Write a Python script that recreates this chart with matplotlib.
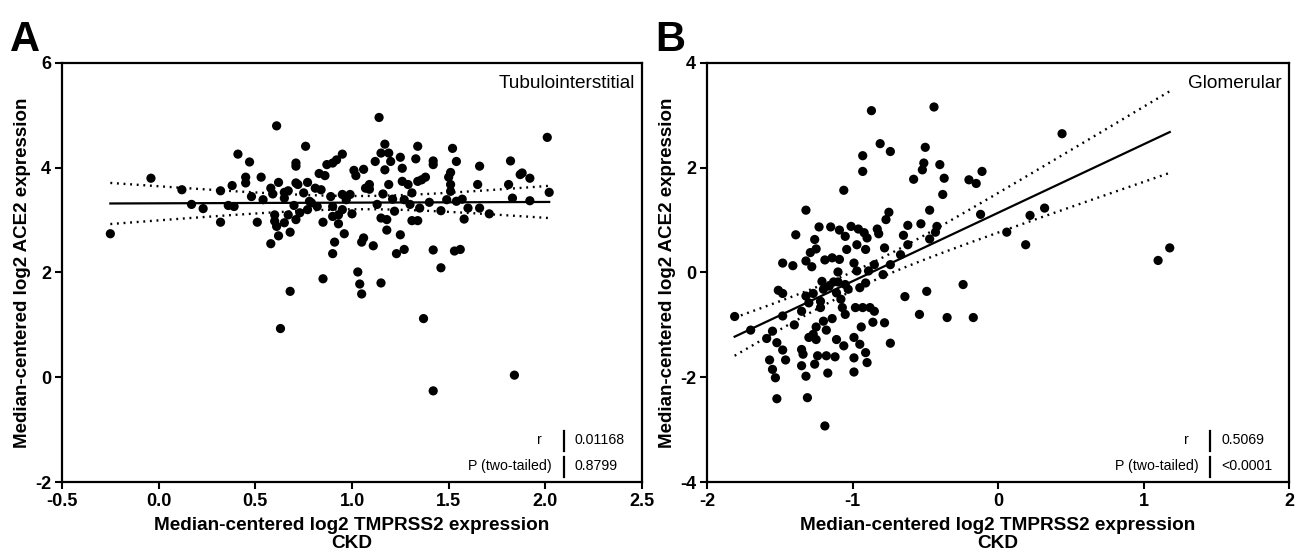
import matplotlib
matplotlib.use("Agg")
import matplotlib.pyplot as plt
import numpy as np

plt.rcParams['font.family'] = ['Liberation Sans', 'DejaVu Sans']

# Tubulointerstitial (panel A)
ta_x = [-0.25, -0.04, 0.12, 0.17, 0.23, 0.32, 0.32, 0.36, 0.39, 0.38, 0.41, 0.45, 0.45, 0.47, 0.48,
        0.51, 0.53, 0.54, 0.58, 0.58, 0.59, 0.60, 0.60, 0.61, 0.61, 0.62, 0.62, 0.65, 0.65, 0.65,
        0.67, 0.68, 0.67, 0.68, 0.63, 0.70, 0.71, 0.71, 0.71, 0.71, 0.72, 0.73, 0.75, 0.76, 0.77,
        0.77, 0.78, 0.79, 0.81, 0.82, 0.83, 0.84, 0.86, 0.85, 0.85, 0.87, 0.89, 0.90, 0.90, 0.90,
        0.91, 0.90, 0.92, 0.93, 0.93, 0.95, 0.95, 0.95, 0.96, 0.97, 0.99, 1.00, 1.01, 1.02, 1.03,
        1.04, 1.05, 1.06, 1.05, 1.06, 1.07, 1.09, 1.09, 1.11, 1.12, 1.13, 1.14, 1.15, 1.15, 1.15,
        1.16, 1.17, 1.17, 1.18, 1.18, 1.19, 1.19, 1.20, 1.21, 1.22, 1.23, 1.25, 1.25, 1.26, 1.26,
        1.27, 1.27, 1.29, 1.30, 1.31, 1.31, 1.33, 1.34, 1.34, 1.34, 1.35, 1.36, 1.37, 1.38, 1.40,
        1.42, 1.42, 1.42, 1.46, 1.46, 1.49, 1.50, 1.51, 1.51, 1.51, 1.52, 1.53, 1.54, 1.54, 1.56,
        1.57, 1.58, 1.60, 1.65, 1.66, 1.66, 1.71, 1.81, 1.82, 1.83, 1.87, 1.88, 1.92, 1.92, 2.01,
        2.02, 1.42, 1.84]
ta_y = [2.74, 3.80, 3.58, 3.30, 3.22, 3.56, 2.96, 3.28, 3.26, 3.66, 4.26, 3.82, 3.71, 4.11, 3.45,
        2.96, 3.82, 3.39, 2.55, 3.61, 3.50, 3.10, 2.98, 4.80, 2.88, 3.72, 2.70, 3.53, 3.42, 2.95,
        3.10, 2.77, 3.56, 1.64, 0.93, 3.28, 4.03, 4.09, 3.71, 3.01, 3.68, 3.14, 3.52, 4.41, 3.72,
        3.20, 3.36, 3.33, 3.61, 3.26, 3.89, 3.58, 3.85, 2.96, 1.88, 4.06, 3.45, 3.26, 3.07, 4.09,
        2.58, 2.36, 4.15, 3.10, 2.93, 3.20, 4.26, 3.49, 2.74, 3.39, 3.49, 3.12, 3.95, 3.85, 2.01,
        1.78, 1.59, 2.66, 2.58, 3.97, 3.61, 3.59, 3.68, 2.51, 4.12, 3.30, 4.96, 4.28, 1.80, 3.04,
        3.50, 3.96, 4.45, 3.01, 2.81, 4.28, 3.68, 4.12, 3.40, 3.17, 2.36, 2.72, 4.20, 3.99, 3.74,
        3.39, 2.44, 3.68, 3.30, 3.52, 2.99, 4.17, 2.99, 3.74, 4.41, 3.23, 3.77, 1.12, 3.82, 3.34,
        2.43, 4.06, 4.13, 3.18, 2.09, 3.39, 3.82, 3.68, 3.91, 3.55, 4.37, 2.41, 4.12, 3.36, 2.44,
        3.40, 3.02, 3.23, 3.68, 4.03, 3.23, 3.12, 3.68, 4.13, 3.42, 3.87, 3.90, 3.80, 3.37, 4.58,
        3.53, -0.26, 0.04]

# Glomerular (panel B)
gl_x = [-1.81, -1.70, -1.59, -1.57, -1.55, -1.53, -1.52, -1.55, -1.52, -1.48, -1.46, -1.48, -1.41,
        -1.39, -1.51, -1.48, -1.48, -1.40, -1.35, -1.35, -1.34, -1.35, -1.32, -1.31, -1.32, -1.32,
        -1.32, -1.30, -1.30, -1.29, -1.28, -1.27, -1.26, -1.26, -1.25, -1.25, -1.27, -1.25, -1.24,
        -1.23, -1.22, -1.22, -1.21, -1.20, -1.20, -1.19, -1.19, -1.18, -1.18, -1.17, -1.16, -1.15,
        -1.14, -1.14, -1.13, -1.12, -1.11, -1.11, -1.10, -1.10, -1.09, -1.09, -1.08, -1.07, -1.06,
        -1.06, -1.05, -1.05, -1.05, -1.04, -1.03, -1.01, -0.99, -0.99, -0.99, -0.99, -0.98, -0.97,
        -0.97, -0.96, -0.95, -0.95, -0.94, -0.93, -0.93, -0.93, -0.92, -0.91, -0.91, -0.91, -0.90,
        -0.90, -0.89, -0.88, -0.87, -0.86, -0.85, -0.85, -0.83, -0.82, -0.81, -0.79, -0.78, -0.78,
        -0.77, -0.75, -0.74, -0.74, -0.74, -0.67, -0.65, -0.64, -0.62, -0.62, -0.58, -0.54, -0.53,
        -0.52, -0.51, -0.50, -0.49, -0.47, -0.47, -0.44, -0.43, -0.42, -0.40, -0.37, -0.38, -0.35,
        -0.24, -0.20, -0.17, -0.15, -0.12, -0.11, 0.06, 0.19, 0.22, 0.32, 0.44, 1.18, 1.10]
gl_y = [-0.84, -1.10, -1.26, -1.67, -1.85, -2.01, -2.41, -1.12, -1.34, -1.48, -1.67, 0.18, 0.13,
        0.72, -0.34, -0.40, -0.83, -1.00, -0.74, -1.47, -1.56, -1.78, -1.98, -2.39, 1.19, 0.22,
        -0.45, -0.58, -1.24, 0.38, 0.11, -0.40, -1.75, 0.63, 0.45, -1.04, -1.18, -1.28, -1.59,
        0.87, -0.55, -0.67, -0.17, -0.32, -0.93, 0.24, -2.93, -1.10, -1.59, -1.92, -0.26, 0.87,
        0.28, -0.88, -0.18, -1.61, -0.39, -1.28, 0.01, -0.18, 0.81, 0.25, -0.51, -0.67, -1.40,
        1.57, 0.69, -0.23, -0.80, 0.44, -0.32, 0.88, 0.18, -1.24, -1.63, -1.90, -0.67, 0.53,
        0.03, 0.83, -0.29, -1.37, -1.04, 2.23, 1.93, -0.67, 0.76, 0.44, -0.20, -1.53, -1.72,
        0.66, 0.03, -0.67, 3.09, -0.95, 0.15, -0.74, 0.83, 0.74, 2.46, -0.04, 0.47, -0.96,
        1.01, 1.15, 2.31, 0.15, -1.35, 0.34, 0.71, -0.46, 0.90, 0.53, 1.78, -0.80, 0.93,
        1.96, 2.09, 2.39, -0.36, 0.64, 1.19, 3.16, 0.77, 0.88, 2.06, 1.80, 1.49, -0.86,
        -0.23, 1.77, -0.86, 1.70, 1.11, 1.93, 0.77, 0.53, 1.09, 1.23, 2.65, 0.47, 0.23]

panels = [
    dict(x=ta_x, y=ta_y, xlim=(-0.5, 2.5), ylim=(-2, 6), xticks=[-0.5, 0.0, 0.5, 1.0, 1.5, 2.0, 2.5],
         yticks=[-2, 0, 2, 4, 6], xfmt='{:.1f}', name='Tubulointerstitial', r='0.01168', p='0.8799',
         letter='A', pos=[0.0476, 0.1362, 0.4451, 0.7509]),
    dict(x=gl_x, y=gl_y, xlim=(-2, 2), ylim=(-4, 4), xticks=[-2, -1, 0, 1, 2],
         yticks=[-4, -2, 0, 2, 4], xfmt='{:.0f}', name='Glomerular', r='0.5069', p='<0.0001',
         letter='B', pos=[0.5426, 0.1362, 0.4467, 0.7509]),
]

fig = plt.figure(figsize=(13.03, 5.58), dpi=100)

for pn in panels:
    ax = fig.add_axes(pn['pos'])
    x = np.array(pn['x'])
    y = np.array(pn['y'])
    ax.scatter(x, y, s=44, color='black', edgecolors='none', zorder=3)

    # linear regression with 95% confidence band
    n = len(x)
    slope, intercept = np.polyfit(x, y, 1)
    xs = np.linspace(x.min(), x.max(), 200)
    yfit = slope * xs + intercept
    resid = y - (slope * x + intercept)
    s = np.sqrt(np.sum(resid ** 2) / (n - 2))
    sxx = np.sum((x - x.mean()) ** 2)
    half = 1.975 * s * np.sqrt(1.0 / n + (xs - x.mean()) ** 2 / sxx)
    ax.plot(xs, yfit, color='black', lw=1.6, zorder=2)
    ax.plot(xs, yfit + half, color='black', lw=1.7, ls=(0, (0.8, 2.0)), zorder=2)
    ax.plot(xs, yfit - half, color='black', lw=1.7, ls=(0, (0.8, 2.0)), zorder=2)

    ax.set_xlim(pn['xlim'])
    ax.set_ylim(pn['ylim'])
    ax.set_xticks(pn['xticks'])
    ax.set_xticklabels([pn['xfmt'].format(v) for v in pn['xticks']], fontsize=13, fontweight='bold')
    ax.set_yticks(pn['yticks'])
    ax.set_yticklabels([str(v) for v in pn['yticks']], fontsize=13, fontweight='bold')
    ax.tick_params(direction='out', length=5, width=1.5, pad=3)
    for sp in ax.spines.values():
        sp.set_linewidth(1.6)

    ax.set_xlabel('Median-centered log2 TMPRSS2 expression\nCKD', fontsize=13.7,
                  fontweight='bold', labelpad=5, linespacing=1.05)
    ax.set_ylabel('Median-centered log2 ACE2 expression', fontsize=13.5,
                  fontweight='bold', labelpad=3)

    ax.text(0.988, 0.95, pn['name'], transform=ax.transAxes, ha='right', va='center', fontsize=13.7)

    # stats table in the lower right
    ax.text(0.828, 0.100, 'r', transform=ax.transAxes, ha='right', va='center', fontsize=10.2)
    ax.text(0.845, 0.037, 'P (two-tailed)', transform=ax.transAxes, ha='right', va='center', fontsize=10.2)
    ax.text(0.884, 0.100, pn['r'], transform=ax.transAxes, ha='left', va='center', fontsize=10.2)
    ax.text(0.884, 0.037, pn['p'], transform=ax.transAxes, ha='left', va='center', fontsize=10.2)
    ax.plot([0.865, 0.865], [0.075, 0.122], transform=ax.transAxes, color='black', lw=1.6)
    ax.plot([0.865, 0.865], [0.012, 0.059], transform=ax.transAxes, color='black', lw=1.6)

    fig.text(pn['pos'][0] - 0.04, 0.965, pn['letter'], fontsize=30, fontweight='bold',
             ha='left', va='top')

fig.savefig('out.png', dpi=100)
